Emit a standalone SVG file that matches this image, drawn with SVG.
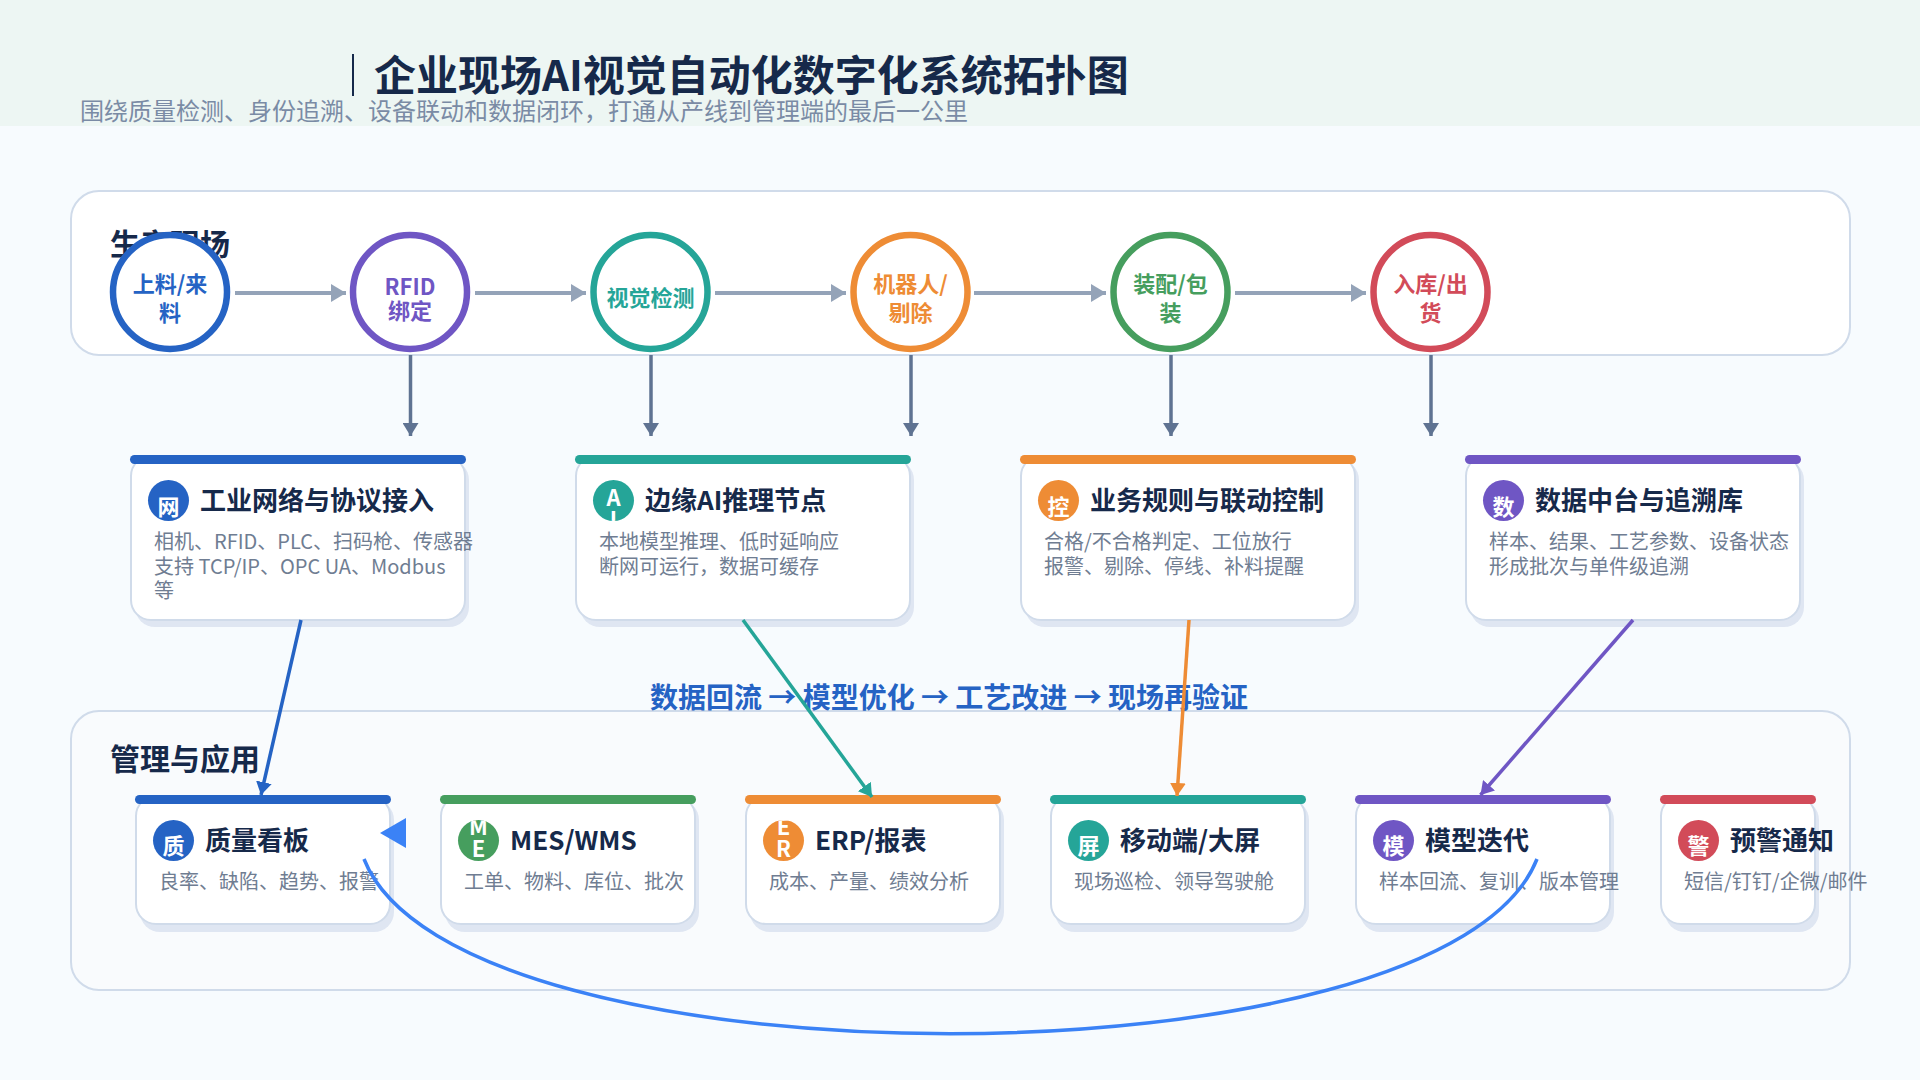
<svg xmlns="http://www.w3.org/2000/svg" width="1920" height="1080" viewBox="0 0 1920 1080">
<style>
text{font-family:"Noto Sans CJK SC","Liberation Sans",sans-serif}
.panel{stroke:#d0dbea;stroke-width:2}
.sec{font-size:30px;font-weight:700;fill:#16294a}
.ct{font-size:22px;font-weight:700;text-anchor:middle}
.cshadow{fill:#dfe6f2}
.cbody{fill:#fff;stroke:#d0dbea;stroke-width:2}
.ttl{font-size:26px;font-weight:700;fill:#16294a}
.dsc{font-size:20px;fill:#6f7d92}
.ico{font-size:22px;font-weight:700;fill:#fff;text-anchor:middle}
.flow{stroke:#94a3b8;stroke-width:4;fill:none;marker-end:url(#ah)}
.down{stroke:#5f7392;stroke-width:3.500;fill:none;marker-end:url(#ad)}
.blue{fill:#2563c4}.purple{fill:#6f56c4}.teal{fill:#25a598}.orange{fill:#ee8c35}.green{fill:#469e5e}.red{fill:#d24b59}
</style>
<defs>
<marker id="ah" markerUnits="userSpaceOnUse" markerWidth="16" markerHeight="18" refX="15" refY="9" orient="auto"><path d="M0 0L15 9L0 18Z" fill="#94a3b8"/></marker>
<marker id="ad" markerUnits="userSpaceOnUse" markerWidth="16" markerHeight="16" refX="13" refY="8" orient="auto"><path d="M0 0L13 8L0 16Z" fill="#5f7392"/></marker>
<marker id="mb" markerUnits="userSpaceOnUse" markerWidth="16" markerHeight="16" refX="13" refY="8" orient="auto"><path d="M0 0L13 8L0 16Z" fill="#2563c4"/></marker>
<marker id="mt" markerUnits="userSpaceOnUse" markerWidth="16" markerHeight="16" refX="13" refY="8" orient="auto"><path d="M0 0L13 8L0 16Z" fill="#25a598"/></marker>
<marker id="mo" markerUnits="userSpaceOnUse" markerWidth="16" markerHeight="16" refX="13" refY="8" orient="auto"><path d="M0 0L13 8L0 16Z" fill="#ee8c35"/></marker>
<marker id="mp" markerUnits="userSpaceOnUse" markerWidth="16" markerHeight="16" refX="13" refY="8" orient="auto"><path d="M0 0L13 8L0 16Z" fill="#6f56c4"/></marker>
<clipPath id="c1"><circle cx="168.500" cy="500.500" r="20.500"/></clipPath>
<clipPath id="c2"><circle cx="613.500" cy="500.500" r="20.500"/></clipPath>
<clipPath id="c3"><circle cx="1058.500" cy="500.500" r="20.500"/></clipPath>
<clipPath id="c4"><circle cx="1503.500" cy="500.500" r="20.500"/></clipPath>
<clipPath id="d1"><circle cx="173.500" cy="840.500" r="20.500"/></clipPath>
<clipPath id="d2"><circle cx="478.500" cy="840.500" r="20.500"/></clipPath>
<clipPath id="d3"><circle cx="783.500" cy="840.500" r="20.500"/></clipPath>
<clipPath id="d4"><circle cx="1088.500" cy="840.500" r="20.500"/></clipPath>
<clipPath id="d5"><circle cx="1393.500" cy="840.500" r="20.500"/></clipPath>
<clipPath id="d6"><circle cx="1698.500" cy="840.500" r="20.500"/></clipPath>
</defs>
<rect width="1920" height="1080" fill="#f7fbfe"/>
<rect width="1920" height="126" fill="#edf6f3"/>
<g id="header">
<rect x="352" y="54" width="2" height="42" fill="#16294a"/>
<text x="374" y="91" font-weight="700" fill="#16294a" style="font-size:42px">企业现场AI视觉自动化数字化系统拓扑图</text>
<text x="80" y="120" fill="#7a8ba5" style="font-size:24px">围绕质量检测、身份追溯、设备联动和数据闭环&#65292;打通从产线到管理端的最后一公里</text>
</g>
<g id="panel-top">
<rect class="panel" x="71" y="191" width="1779" height="164" rx="28" fill="#fff"/>
<text class="sec" x="110" y="255">生产现场</text>
</g>
<g id="panel-bottom">
<rect class="panel" x="71" y="711" width="1779" height="279" rx="28" fill="#f9fbfd"/>
<text class="sec" x="110" y="770">管理与应用</text>
</g>
<g id="feedback"><text x="949" y="708" text-anchor="middle" fill="#2563c4" font-weight="700" style="font-size:28px">数据回流 → 模型优化 → 工艺改进 → 现场再验证</text></g>

<g id="n-feed"><circle cx="170" cy="292" r="57" fill="#fff" stroke="#2563c4" stroke-width="6.500"/><text class="ct blue" x="170" y="292">上料/来</text><text class="ct blue" x="170" y="321">料</text></g>
<g id="n-rfid"><circle cx="410" cy="292" r="57" fill="#fff" stroke="#6f56c4" stroke-width="6.500"/><text class="ct purple" x="410" y="295">RFID</text><text class="ct purple" x="410" y="319">绑定</text></g>
<g id="n-vision"><circle cx="650.500" cy="292" r="57" fill="#fff" stroke="#25a598" stroke-width="6.500"/><text class="ct teal" x="650.500" y="306">视觉检测</text></g>
<g id="n-robot"><circle cx="910.500" cy="292" r="57" fill="#fff" stroke="#ee8c35" stroke-width="6.500"/><text class="ct orange" x="910.500" y="292">机器人/</text><text class="ct orange" x="910.500" y="321">剔除</text></g>
<g id="n-pack"><circle cx="1170.500" cy="292" r="57" fill="#fff" stroke="#469e5e" stroke-width="6.500"/><text class="ct green" x="1170.500" y="292">装配/包</text><text class="ct green" x="1170.500" y="321">装</text></g>
<g id="n-store"><circle cx="1430.500" cy="292" r="57" fill="#fff" stroke="#d24b59" stroke-width="6.500"/><text class="ct red" x="1430.500" y="292">入库/出</text><text class="ct red" x="1430.500" y="321">货</text></g>

<g id="c-net">
<rect class="cshadow" x="135" y="460" width="334" height="167" rx="20"/><rect class="cbody" x="131" y="456" width="334" height="164" rx="20"/><rect class="blue" x="130" y="455" width="336" height="9" rx="4.500"/>
<circle class="blue" cx="168.500" cy="500.500" r="20.500"/><text class="ico" x="168.500" y="515" clip-path="url(#c1)">网</text>
<text class="ttl" x="200" y="510">工业网络与协议接入</text>
<text class="dsc" x="154" y="549">相机、RFID、PLC、扫码枪、传感器</text><text class="dsc" x="154" y="574">支持 TCP/IP、OPC UA、Modbus</text><text class="dsc" x="154" y="598">等</text>
</g>
<g id="c-ai">
<rect class="cshadow" x="580" y="460" width="334" height="167" rx="20"/><rect class="cbody" x="576" y="456" width="334" height="164" rx="20"/><rect class="teal" x="575" y="455" width="336" height="9" rx="4.500"/>
<circle class="teal" cx="613.500" cy="500.500" r="20.500"/><g clip-path="url(#c2)"><text class="ico" x="613.500" y="506">A</text><text class="ico" x="613.500" y="528">I</text></g>
<text class="ttl" x="645" y="510">边缘AI推理节点</text>
<text class="dsc" x="599" y="549">本地模型推理、低时延响应</text><text class="dsc" x="599" y="574">断网可运行&#65292;数据可缓存</text>
</g>
<g id="c-rule">
<rect class="cshadow" x="1025" y="460" width="334" height="167" rx="20"/><rect class="cbody" x="1021" y="456" width="334" height="164" rx="20"/><rect class="orange" x="1020" y="455" width="336" height="9" rx="4.500"/>
<circle class="orange" cx="1058.500" cy="500.500" r="20.500"/><text class="ico" x="1058.500" y="515" clip-path="url(#c3)">控</text>
<text class="ttl" x="1090" y="510">业务规则与联动控制</text>
<text class="dsc" x="1044" y="549">合格/不合格判定、工位放行</text><text class="dsc" x="1044" y="574">报警、剔除、停线、补料提醒</text>
</g>
<g id="c-data">
<rect class="cshadow" x="1470" y="460" width="334" height="167" rx="20"/><rect class="cbody" x="1466" y="456" width="334" height="164" rx="20"/><rect class="purple" x="1465" y="455" width="336" height="9" rx="4.500"/>
<circle class="purple" cx="1503.500" cy="500.500" r="20.500"/><text class="ico" x="1503.500" y="515" clip-path="url(#c4)">数</text>
<text class="ttl" x="1535" y="510">数据中台与追溯库</text>
<text class="dsc" x="1489" y="549">样本、结果、工艺参数、设备状态</text><text class="dsc" x="1489" y="574">形成批次与单件级追溯</text>
</g>

<g id="d-board">
<rect class="cshadow" x="140" y="800" width="254" height="132" rx="20"/><rect class="cbody" x="136" y="796" width="254" height="128" rx="20"/><rect class="blue" x="135" y="795" width="256" height="9" rx="4.500"/>
<circle class="blue" cx="173.500" cy="840.500" r="20.500"/><text class="ico" x="173.500" y="854" clip-path="url(#d1)">质</text>
<text class="ttl" x="205" y="850">质量看板</text><text class="dsc" x="159" y="889">良率、缺陷、趋势、报警</text>
</g>
<g id="d-mes">
<rect class="cshadow" x="445" y="800" width="254" height="132" rx="20"/><rect class="cbody" x="441" y="796" width="254" height="128" rx="20"/><rect class="green" x="440" y="795" width="256" height="9" rx="4.500"/>
<circle class="green" cx="478.500" cy="840.500" r="20.500"/><g clip-path="url(#d2)"><text class="ico" x="478.500" y="835">M</text><text class="ico" x="478.500" y="857">E</text></g>
<text class="ttl" x="510" y="850">MES/WMS</text><text class="dsc" x="464" y="889">工单、物料、库位、批次</text>
</g>
<g id="d-erp">
<rect class="cshadow" x="750" y="800" width="254" height="132" rx="20"/><rect class="cbody" x="746" y="796" width="254" height="128" rx="20"/><rect class="orange" x="745" y="795" width="256" height="9" rx="4.500"/>
<circle class="orange" cx="783.500" cy="840.500" r="20.500"/><g clip-path="url(#d3)"><text class="ico" x="783.500" y="835">E</text><text class="ico" x="783.500" y="857">R</text></g>
<text class="ttl" x="815" y="850">ERP/报表</text><text class="dsc" x="769" y="889">成本、产量、绩效分析</text>
</g>
<g id="d-mobile">
<rect class="cshadow" x="1055" y="800" width="254" height="132" rx="20"/><rect class="cbody" x="1051" y="796" width="254" height="128" rx="20"/><rect class="teal" x="1050" y="795" width="256" height="9" rx="4.500"/>
<circle class="teal" cx="1088.500" cy="840.500" r="20.500"/><text class="ico" x="1088.500" y="854" clip-path="url(#d4)">屏</text>
<text class="ttl" x="1120" y="850">移动端/大屏</text><text class="dsc" x="1074" y="889">现场巡检、领导驾驶舱</text>
</g>
<g id="d-model">
<rect class="cshadow" x="1360" y="800" width="254" height="132" rx="20"/><rect class="cbody" x="1356" y="796" width="254" height="128" rx="20"/><rect class="purple" x="1355" y="795" width="256" height="9" rx="4.500"/>
<circle class="purple" cx="1393.500" cy="840.500" r="20.500"/><text class="ico" x="1393.500" y="854" clip-path="url(#d5)">模</text>
<text class="ttl" x="1425" y="850">模型迭代</text><text class="dsc" x="1379" y="889">样本回流、复训、版本管理</text>
</g>
<g id="d-alert">
<rect class="cshadow" x="1665" y="800" width="154" height="132" rx="20"/><rect class="cbody" x="1661" y="796" width="154" height="128" rx="20"/><rect class="red" x="1660" y="795" width="156" height="9" rx="4.500"/>
<circle class="red" cx="1698.500" cy="840.500" r="20.500"/><text class="ico" x="1698.500" y="854" clip-path="url(#d6)">警</text>
<text class="ttl" x="1730" y="850">预警通知</text><text class="dsc" x="1684" y="889">短信/钉钉/企微/邮件</text>
</g>

<g id="connectors">
<path class="flow" d="M235 293H346"/><path class="flow" d="M475 293H586"/><path class="flow" d="M715 293H846"/><path class="flow" d="M974 293H1106"/><path class="flow" d="M1235 293H1366"/>
<path class="down" d="M410.500 355V436"/><path class="down" d="M651 355V436"/><path class="down" d="M911 355V436"/><path class="down" d="M1171 355V436"/><path class="down" d="M1431 355V436"/>
<path d="M301 620L261 795" stroke="#2563c4" stroke-width="3.500" fill="none" marker-end="url(#mb)"/>
<path d="M743 620L872 797" stroke="#25a598" stroke-width="3.500" fill="none" marker-end="url(#mt)"/>
<path d="M1189 620L1177 796" stroke="#ee8c35" stroke-width="3.500" fill="none" marker-end="url(#mo)"/>
<path d="M1633 620L1480.500 795" stroke="#6f56c4" stroke-width="3.500" fill="none" marker-end="url(#mp)"/>
<path d="M364 859C455 1092 1445 1092 1537 859" stroke="#3b82f6" stroke-width="3.500" fill="none"/>
<path d="M380 833L406 818V848Z" fill="#3b82f6"/>
</g>
</svg>
